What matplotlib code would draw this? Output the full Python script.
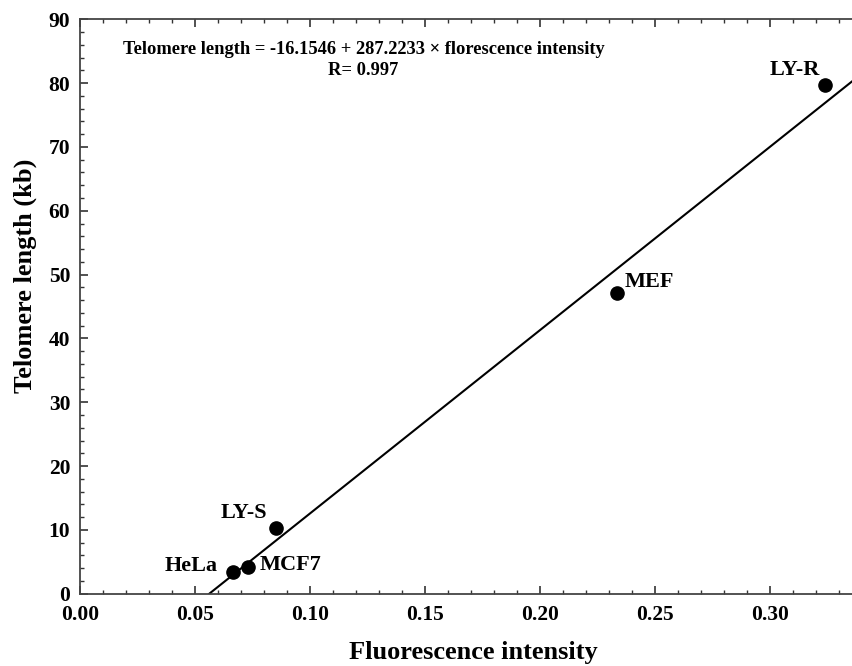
import matplotlib.pyplot as plt
import numpy as np

plt.rcParams['font.family'] = ['Liberation Serif', 'DejaVu Serif']
plt.rcParams['font.weight'] = 'bold'

# cell lines: fluorescence intensity vs telomere length (kb)
linie = ['HeLa', 'MCF7', 'LY-S', 'MEF', 'LY-R']
fluo = [0.0667, 0.0729, 0.0851, 0.2333, 0.3240]
telo = [3.45, 4.2, 10.25, 47.1, 79.7]
# label offsets in pixels
offsety = [(-16, 6, 'right'), (12, 2, 'left'), (-8, 15, 'right'), (8, 11, 'left'), (-30, 15, 'center')]

a0 = -16.1546
a1 = 287.2233
R = 0.997

fig = plt.figure(figsize=(8.52, 6.66), dpi=100)
ax = fig.add_axes([0.0939, 0.1086, 0.9061, 0.8624])

xmax = 0.3357
xl = np.array([-a0 / a1, xmax])
ax.plot(xl, a0 + a1 * xl, color='black', lw=1.5)
ax.plot(fluo, telo, 'o', color='black', markersize=9.5)

for n, x, y, (dx, dy, ha) in zip(linie, fluo, telo, offsety):
    ax.annotate(n, (x, y), xytext=(dx, dy), textcoords='offset pixels',
                ha=ha, va='center', fontsize=16, fontweight='bold')

ax.text(0.1233, 83.6, 'Telomere length = %.4f + %.4f \u00d7 florescence intensity\nR= %.3f' % (a0, a1, R),
        ha='center', va='center', fontsize=13.3, fontweight='bold', multialignment='center',
        linespacing=1.3)

ax.set_xlim(0, xmax)
ax.set_ylim(0, 90)
ax.set_xticks(np.arange(0, 0.31, 0.05))
ax.set_xticks(np.arange(0, 0.336, 0.01), minor=True)
ax.set_yticks(np.arange(0, 91, 10))
ax.set_yticks(np.arange(0, 91, 2), minor=True)
ax.xaxis.set_major_formatter(plt.FormatStrFormatter('%.2f'))

ax.tick_params(which='both', direction='in', top=True, right=False, colors='#333333',
               labelcolor='black', labelsize=15.5)
ax.tick_params(which='major', length=6, width=1.2)
ax.tick_params(which='minor', length=3, width=1)
ax.tick_params(axis='x', pad=8)
ax.tick_params(axis='y', pad=7)
for s in ['left', 'bottom', 'top']:
    ax.spines[s].set_linewidth(1.3)
    ax.spines[s].set_color('#444444')
ax.spines['right'].set_visible(False)

ax.set_xlabel('Fluorescence intensity', fontsize=19, fontweight='bold')
ax.xaxis.set_label_coords(0.509, -0.083)
ax.set_ylabel('Telomere length (kb)', fontsize=19, fontweight='bold')
ax.yaxis.set_label_coords(-0.0557, 0.554)

fig.savefig('out.png', dpi=100)
